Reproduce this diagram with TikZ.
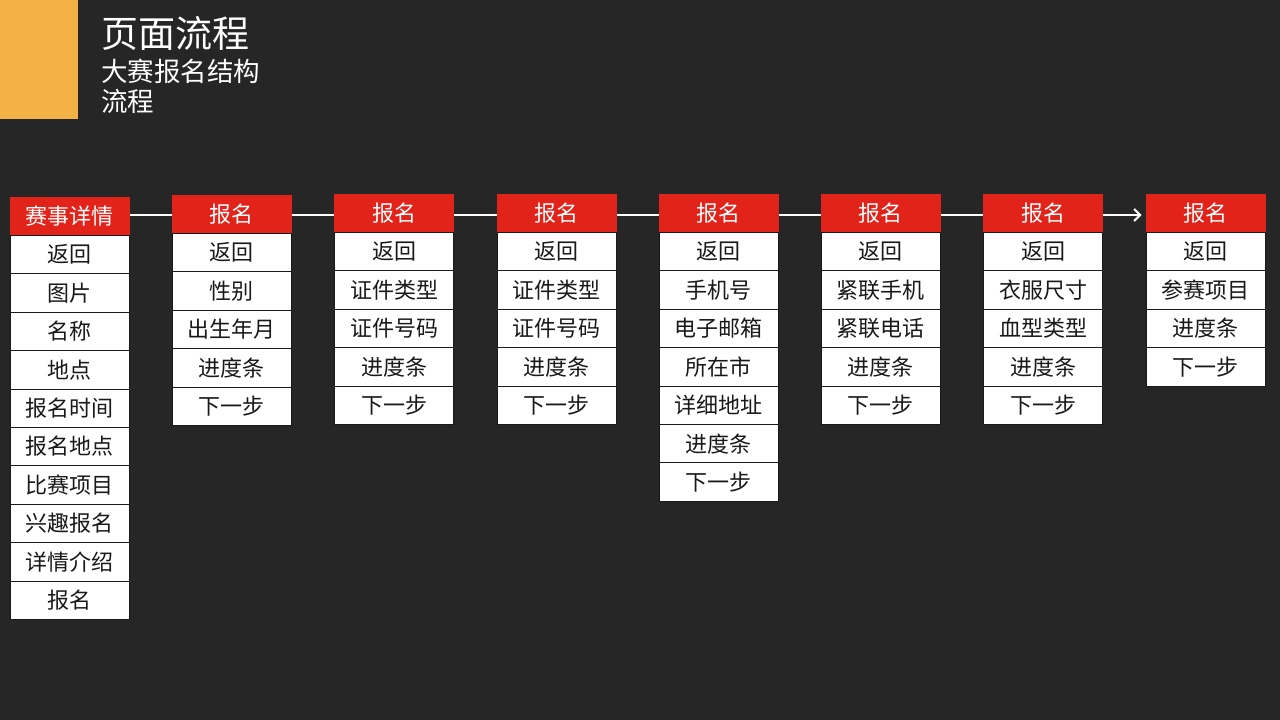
\documentclass[tikz,border=0pt]{standalone}
\usepackage{fontspec}
\setmainfont{Noto Sans CJK SC}
\usetikzlibrary{arrows.meta}
\definecolor{bgc}{RGB}{38,38,38}
\definecolor{orangec}{RGB}{244,177,70}
\definecolor{redc}{RGB}{226,35,26}
\definecolor{txtc}{RGB}{25,25,25}
\tikzset{
  cell/.style={draw=txtc, line width=1pt, fill=white, minimum width=119pt, minimum height=38.4pt,
    inner sep=0pt, text=txtc, font=\fontsize{22}{22}\selectfont},
  headcell/.style={cell, fill=redc, draw=redc, text=white},
  link/.style={draw=white, line width=2.5pt},
  title/.style={anchor=west, inner sep=0pt, text=white},
}
\begin{document}
\begin{tikzpicture}[x=1pt,y=-1pt]
\fill[bgc] (0,0) rectangle (1280,720);
\useasboundingbox (0,0) rectangle (1280,720);
\fill[orangec] (0,0) rectangle (78,119);
\node[title, font=\fontsize{37}{37}\selectfont] (t1) at (101,33) {页面流程};
\node[title, font=\fontsize{26.5}{26.5}\selectfont] (t2) at (101,71) {大赛报名结构};
\node[title, font=\fontsize{26.5}{26.5}\selectfont] (t3) at (101,101) {流程};
\foreach \n/\x/\t/\h/\items in {
  1/69.5/197/赛事详情/{返回,图片,名称,地点,报名时间,报名地点,比赛项目,兴趣报名,详情介绍,报名},
  2/231.5/195/报名/{返回,性别,出生年月,进度条,下一步},
  3/394/194/报名/{返回,证件类型,证件号码,进度条,下一步},
  4/556.5/194/报名/{返回,证件类型,证件号码,进度条,下一步},
  5/718.5/194/报名/{返回,手机号,电子邮箱,所在市,详细地址,进度条,下一步},
  6/880.5/194/报名/{返回,紧联手机,紧联电话,进度条,下一步},
  7/1043/194/报名/{返回,衣服尺寸,血型类型,进度条,下一步},
  8/1205.5/194/报名/{返回,参赛项目,进度条,下一步}} {
  \node[headcell] (c\n-0) at (\x,\t+19.2) {\h};
  \foreach \s [count=\j] in \items {
    \node[cell] (c\n-\j) at (\x,\t+19.2+38.4*\j) {\s};
  }
}
\coordinate (lineY) at (0,215);
\draw[link] (c1-0.east |- lineY) -- (c2-0.west |- lineY);
\draw[link] (c2-0.east |- lineY) -- (c3-0.west |- lineY);
\draw[link] (c3-0.east |- lineY) -- (c4-0.west |- lineY);
\draw[link] (c4-0.east |- lineY) -- (c5-0.west |- lineY);
\draw[link] (c5-0.east |- lineY) -- (c6-0.west |- lineY);
\draw[link] (c6-0.east |- lineY) -- (c7-0.west |- lineY);
\draw[link, -{Straight Barb[length=6pt,width=12pt,line width=2pt]}] (c7-0.east |- lineY) -- ([xshift=-4pt]c8-0.west |- lineY);
\end{tikzpicture}
\end{document}
